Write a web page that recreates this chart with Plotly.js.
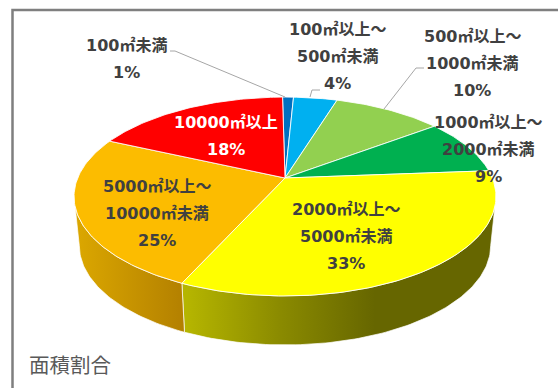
<!DOCTYPE html>
<html lang="ja">
<head>
<meta charset="utf-8">
<script src="https://cdn.plot.ly/plotly-3.0.1.min.js"></script>
<style>html,body{margin:0;padding:0;background:#fff;overflow:hidden}</style>
</head>
<body>
<div id="chart" style="width:558px;height:388px"></div>
<script>
// Floor-area share by lot size, clockwise from twelve o'clock
const categories = ['100㎡未満', '100㎡以上～|500㎡未満', '500㎡以上～|1000㎡未満', '1000㎡以上～|2000㎡未満',
                    '2000㎡以上～|5000㎡未満', '5000㎡以上～|10000㎡未満', '10000㎡以上'];
const shares = [1, 4, 10, 9, 33, 25, 18];
const topColors = ['#0070c0', '#00b0f0', '#92d050', '#00b050', '#ffff00', '#fcbc00', '#ff0000'];
const wallRamps = [null, null, null, null,
  [[0, '#b5b500'], [0.5, '#8a8a00'], [1, '#666600']],
  [[0, '#dca800'], [1, '#b38000']],
  null];
const labelColors = ['#404040', '#404040', '#404040', '#404040', '#404040', '#404040', '#ffffff'];
const labelCentres = [[126, 45], [337, 29], [472, 36], [488, 122], [346, 209], [157, 186], [226, 122]];
const leaders = [
  [[170, 175, 285], [51, 51, 97]],
  [[310, 312, 320], [97, 90, 90]],
  [[384, 416, 424], [109, 68, 68]]
];
const lineStep = 27.3;
const chartCaption = '面積割合';

// Projected disc: a unit circle tilted away from the viewer
const cx = 285, apexY = 178, rx = 207.3, ry = 96, tilt = 0.186;
const depth = 49, wallShrink = 0.975, startAngle = -0.8;
// Angles where the projected rim turns back: the wall is only seen between them
const sideAngle = Math.acos(-tilt) * 180 / Math.PI;

function project(deg, lower) {
  const t = deg * Math.PI / 180, u = Math.sin(t), v = Math.cos(t), w = 1 + tilt * v;
  const s = lower ? wallShrink : 1;
  return [cx + s * rx * u / w, apexY + (lower ? depth : 0) - ry * v / w];
}
function arc(a0, a1, lower) {
  const n = Math.max(2, Math.ceil(Math.abs(a1 - a0))), pts = [];
  for (let i = 0; i <= n; i++) pts.push(project(a0 + (a1 - a0) * i / n, lower));
  return pts;
}

const total = shares.reduce((a, b) => a + b, 0);
const walls = [], tops = [];
let acc = 0;
shares.forEach((share, i) => {
  const a0 = startAngle + acc / total * 360;
  acc += share;
  const a1 = startAngle + acc / total * 360;
  const rim = [[cx, apexY], ...arc(a0, a1, false), [cx, apexY]];
  tops.push({
    type: 'scatter', mode: 'lines', x: rim.map(p => p[0]), y: rim.map(p => p[1]),
    fill: 'toself', fillcolor: topColors[i], line: {color: 'rgba(255,255,255,0.85)', width: 1},
    hoverinfo: 'skip', showlegend: false
  });
  if (wallRamps[i]) {
    const w0 = Math.max(a0, sideAngle), w1 = Math.min(a1, 360 - sideAngle);
    const upper = arc(w0, w1, false);
    const shell = [...upper, ...arc(w1, w0, true), upper[0]];
    const xs = shell.map(p => p[0]);
    walls.push({
      type: 'scatter', mode: 'lines', x: xs, y: shell.map(p => p[1]),
      fill: 'toself',
      fillgradient: {type: 'horizontal', colorscale: wallRamps[i],
                     start: i === 4 ? 187 : Math.min(...xs), stop: i === 4 ? 375 : Math.max(...xs)},
      line: {color: 'rgba(255,255,255,0.7)', width: 1},
      hoverinfo: 'skip', showlegend: false
    });
  }
});

const leaderTraces = leaders.map(l => ({
  type: 'scatter', mode: 'lines', x: l[0], y: l[1],
  line: {color: '#a6a6a6', width: 1}, hoverinfo: 'skip', showlegend: false
}));

// One annotation per text line so the line pitch can be set exactly
const labelFont = '"DejaVu Sans","Noto Sans CJK JP",sans-serif';
const annotations = [];
categories.forEach((name, i) => {
  const lines = [...name.split('|'), shares[i] + '%'];
  lines.forEach((text, k) => annotations.push({
    xref: 'x', yref: 'y', x: labelCentres[i][0], y: labelCentres[i][1] + k * lineStep,
    text: '<b>' + text + '</b>', showarrow: false, xanchor: 'center', yanchor: 'middle',
    font: {family: labelFont, size: 16, color: labelColors[i]}
  }));
});
annotations.push({
  xref: 'x', yref: 'y', x: 27, y: 364, text: chartCaption, showarrow: false,
  xanchor: 'left', yanchor: 'middle',
  font: {family: '"Noto Sans CJK JP",sans-serif', size: 20.5, color: '#595959'}
});

const hidden = {visible: false, fixedrange: true};
Plotly.newPlot('chart', [...walls, ...tops, ...leaderTraces], {
  width: 558, height: 388,
  margin: {l: 0, r: 0, t: 0, b: 0},
  paper_bgcolor: '#ffffff', plot_bgcolor: '#ffffff',
  xaxis: {...hidden, range: [0, 558]},
  yaxis: {...hidden, range: [388, 0]},
  shapes: [{type: 'rect', xref: 'x', yref: 'y', x0: 12.5, y0: 10, x1: 600, y1: 430,
            line: {color: '#7f7f7f', width: 2.5}, layer: 'below'}],
  annotations
}, {staticPlot: true, displayModeBar: false});
</script>
</body>
</html>
